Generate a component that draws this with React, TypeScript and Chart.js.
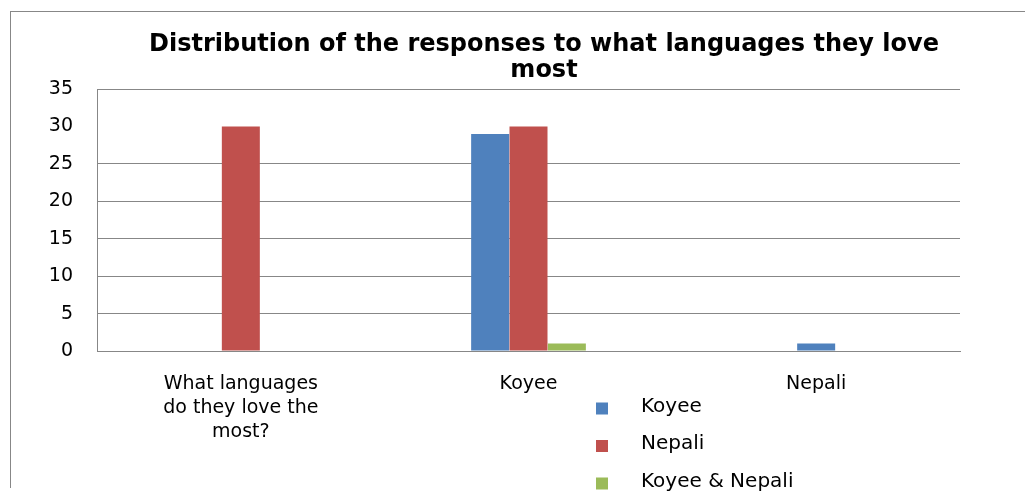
import React, { useEffect, useRef } from "react";
import { Chart, registerables } from "chart.js";

Chart.register(...registerables);

const categories: (string | string[])[] = [
  ["What languages", "do they love the", "most?"],
  "Koyee",
  "Nepali",
];
const seriesNames = ["Koyee", "Nepali", "Koyee & Nepali"];
const koyeeValues: (number | null)[] = [null, 29, 1];
const nepaliValues: (number | null)[] = [30, 30, null];
const bothValues: (number | null)[] = [null, 1, null];
const yTicks = [0, 5, 10, 15, 20, 25, 30, 35];
const titleLines = ["Distribution of the responses to what languages they love", "most"];

const COLORS = ["#4F81BD", "#C0504D", "#9BBB59"];
const GRID = "#878787";
const FONT = "'DejaVu Sans', Verdana, sans-serif";

const sideLegend = {
  id: "sideLegend",
  afterDraw(chart: any) {
    const ctx = chart.ctx;
    const x0 = 585;
    const y0 = 396.5;
    const step = 37.5;
    ctx.save();
    ctx.font = `20px ${FONT}`;
    ctx.textBaseline = "middle";
    ctx.textAlign = "left";
    chart.data.datasets.forEach((ds: any, i: number) => {
      const cy = y0 + i * step;
      ctx.fillStyle = ds.backgroundColor;
      ctx.fillRect(x0, cy - 6, 12, 12);
      ctx.fillStyle = "#000";
      ctx.fillText(ds.label, x0 + 45, cy - 2);
    });
    ctx.restore();
  },
};

export default function App() {
  const ref = useRef<HTMLCanvasElement | null>(null);
  useEffect(() => {
    if (!ref.current) return;
    const series = [koyeeValues, nepaliValues, bothValues];
    const chart = new Chart(ref.current, {
      type: "bar",
      data: {
        labels: categories,
        datasets: series.map((vals, i) => ({
          label: seriesNames[i],
          data: vals,
          backgroundColor: COLORS[i],
          borderWidth: 0,
          categoryPercentage: 0.4,
          barPercentage: 1.0,
          maxBarThickness: 38,
          skipNull: true,
        })),
      },
      options: {
        responsive: false,
        animation: false,
        devicePixelRatio: 1,
        layout: { padding: { left: 0, right: 0, top: 0, bottom: 32 } },
        plugins: {
          legend: { display: false },
          tooltip: { enabled: false },
          title: {
            display: true,
            text: titleLines,
            color: "#000",
            font: { family: FONT, size: 24, weight: "bold", lineHeight: 26 / 24 },
            padding: { top: 20, bottom: 5 },
          },
        },
        scales: {
          x: {
            grid: { display: false, drawTicks: false },
            border: { display: true, color: GRID, width: 1 },
            ticks: {
              color: "#000",
              padding: 21,
              maxRotation: 0,
              autoSkip: false,
              font: { family: FONT, size: 19, lineHeight: 24 / 19 },
            },
          },
          y: {
            min: yTicks[0],
            max: yTicks[yTicks.length - 1],
            afterFit: (s: any) => {
              s.width = 86;
            },
            afterBuildTicks: (s: any) => {
              s.ticks = yTicks.map((v) => ({ value: v }));
            },
            grid: {
              drawTicks: false,
              color: (c: any) => (c.tick && c.tick.value === 30 ? "rgba(0,0,0,0)" : GRID),
              lineWidth: 1,
            },
            border: { display: true, color: GRID, width: 1 },
            ticks: {
              color: "#000",
              padding: 24,
              font: { family: FONT, size: 19 },
            },
          },
          spacer: {
            type: "linear",
            position: "right",
            display: true,
            afterFit: (s: any) => {
              s.width = 117;
            },
            grid: { display: false, drawTicks: false },
            border: { display: false },
            ticks: { display: false },
          },
        },
      },
      plugins: [sideLegend],
    });
    return () => chart.destroy();
  }, []);

  return (
    <div
      style={{
        position: "fixed",
        left: 0,
        top: 0,
        width: 1025,
        height: 496,
        overflow: "hidden",
        background: "#fff",
      }}
    >
      <div
        style={{
          position: "absolute",
          left: 10,
          top: 11,
          width: 1066,
          height: 476,
          borderLeft: `1px solid ${GRID}`,
          borderTop: `1px solid ${GRID}`,
        }}
      >
        <canvas ref={ref} width={1066} height={485} style={{ display: "block", width: 1066, height: 485 }} />
      </div>
    </div>
  );
}
